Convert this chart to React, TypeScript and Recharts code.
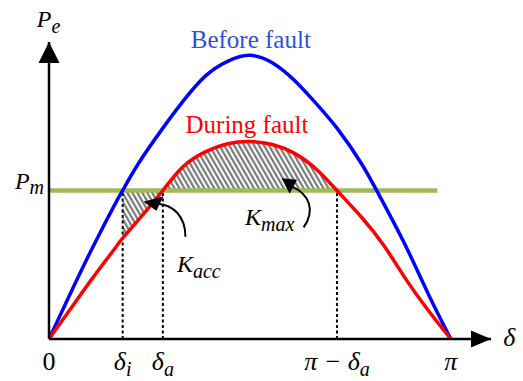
import React from 'react';
import {
  ComposedChart,
  Line,
  Area,
  XAxis,
  YAxis,
  ReferenceLine,
  ReferenceDot,
} from 'recharts';

// rotor angle (deg) and electrical power (pu of Pm)
const deltas = [0, 10, 20, 30, 33, 40, 51, 60, 70, 80, 90, 100, 110, 120, 129, 140, 150, 160, 170, 180];
const beforeFault = [0, 0.32, 0.63, 0.92, 1.0, 1.18, 1.42, 1.6, 1.77, 1.87, 1.91, 1.86, 1.74, 1.58, 1.42, 1.18, 0.91, 0.62, 0.3, 0];
const duringFault = [0, 0.21, 0.42, 0.62, 0.68, 0.8, 1.0, 1.16, 1.26, 1.315, 1.33, 1.31, 1.25, 1.14, 1.0, 0.82, 0.63, 0.4, 0.19, 0];

const pm = 1;
const pmLineEnd = 174;
const deltaI = 33;
const deltaA = 51;
const piMinusDeltaA = 129;

const xTicks = [0, deltaI, deltaA, piMinusDeltaA, 180];
const xTickLabels: [string, string][] = [
  ['0', ''],
  ['δ', 'i'],
  ['δ', 'a'],
  ['π − δ', 'a'],
  ['π', ''],
];
const yTicks = [pm];

const X_MAX = 198;
const Y_MAX = 2;

const fontStyle = { fontFamily: "'Liberation Serif', 'DejaVu Serif', serif" };

const curveData = deltas.map((d, i) => ({ d, before: beforeFault[i], during: duringFault[i] }));
const pmData = [{ d: 0, pe: pm }, { d: pmLineEnd, pe: pm }];
const accBand = deltas
  .map((d, i) => ({ d, band: [duringFault[i], pm] }))
  .filter((p) => p.d >= deltaI && p.d <= deltaA);
const maxBand = deltas
  .map((d, i) => ({ d, band: [pm, duringFault[i]] }))
  .filter((p) => p.d >= deltaA && p.d <= piMinusDeltaA);

function DeltaTick({ x, y, payload }: any) {
  const idx = xTicks.indexOf(payload.value);
  const [main, sub] = xTickLabels[idx] || ['', ''];
  return (
    <text
      x={x}
      y={y + 31}
      textAnchor="middle"
      style={fontStyle}
      fontStyle={main === '0' ? 'normal' : 'italic'}
      fontSize={26}
      fill="#000"
    >
      <tspan>{main}</tspan>
      {sub && (
        <tspan fontSize={20} dy={6}>
          {sub}
        </tspan>
      )}
    </text>
  );
}

function PmTick({ x, y }: any) {
  return (
    <text x={x - 5} y={y - 2} textAnchor="end" style={fontStyle} fontStyle="italic" fontSize={24} fill="#000">
      <tspan>P</tspan>
      <tspan fontSize={20} dy={5}>m</tspan>
    </text>
  );
}

const textShape = (main: string, sub: string, color: string, anchor: string, size = 24) => (p: any) => (
  <text x={p.cx} y={p.cy} textAnchor={anchor} style={fontStyle} fontStyle="italic" fontSize={size} fill={color}>
    <tspan>{main}</tspan>
    {sub && (
      <tspan fontSize={20} dy={6}>
        {sub}
      </tspan>
    )}
  </text>
);

const plainText = (label: string, color: string) => (p: any) => (
  <text x={p.cx} y={p.cy} textAnchor="middle" style={fontStyle} fontSize={25} fill={color}>
    {label}
  </text>
);

const yArrow = (p: any) => (
  <polygon points={`${p.cx},${p.cy} ${p.cx - 10.5},${p.cy + 21} ${p.cx + 10.5},${p.cy + 21}`} fill="#000" />
);
const xArrow = (p: any) => (
  <polygon points={`${p.cx},${p.cy} ${p.cx - 20},${p.cy - 8.5} ${p.cx - 20},${p.cy + 8.5}`} fill="#000" />
);
const pointerShape = (shaft: string, head: string) => (p: any) => (
  <g transform={`translate(${p.cx},${p.cy})`}>
    <path d={shaft} fill="none" stroke="#000" strokeWidth={2} />
    <polygon points={head} fill="#000" />
  </g>
);

export default function App() {
  return (
    <div style={{ position: 'absolute', left: 0, top: 0, width: 523, height: 381, background: '#fff' }}>
      <svg width={0} height={0} style={{ position: 'absolute' }}>
        <defs>
          <pattern id="hatch" patternUnits="userSpaceOnUse" width={4.3} height={10} patternTransform="rotate(-30)">
            <rect x={0} y={0} width={2.2} height={10} fill="#7a7a7a" />
          </pattern>
        </defs>
      </svg>
      <ComposedChart width={523} height={381} data={curveData} margin={{ top: 42, right: 32, bottom: 0, left: 0 }}>
        <XAxis
          type="number"
          dataKey="d"
          domain={[0, X_MAX]}
          ticks={xTicks}
          tick={<DeltaTick />}
          tickLine={false}
          tickSize={0}
          tickMargin={0}
          height={42}
          axisLine={{ stroke: '#000', strokeWidth: 2.5 }}
          allowDataOverflow
          interval={0}
        />
        <YAxis
          type="number"
          domain={[0, Y_MAX]}
          ticks={yTicks}
          tick={<PmTick />}
          tickLine={false}
          tickSize={0}
          tickMargin={0}
          width={49}
          axisLine={{ stroke: '#000', strokeWidth: 2.5 }}
          allowDataOverflow
          interval={0}
        />

        <Area data={accBand} dataKey="band" type="natural" stroke="none" fill="url(#hatch)" fillOpacity={1} isAnimationActive={false} />
        <Area data={maxBand} dataKey="band" type="natural" stroke="none" fill="url(#hatch)" fillOpacity={1} isAnimationActive={false} />

        <ReferenceLine segment={[{ x: deltaI, y: 0 }, { x: deltaI, y: pm }]} stroke="#000" strokeWidth={2} strokeDasharray="3 2.5" />
        <ReferenceLine segment={[{ x: deltaA, y: 0 }, { x: deltaA, y: pm }]} stroke="#000" strokeWidth={2} strokeDasharray="3 2.5" />
        <ReferenceLine segment={[{ x: piMinusDeltaA, y: 0 }, { x: piMinusDeltaA, y: pm }]} stroke="#000" strokeWidth={2} strokeDasharray="3 2.5" />

        <Line data={pmData} dataKey="pe" type="linear" stroke="#9bbb59" strokeWidth={4.5} dot={false} isAnimationActive={false} />
        <Line dataKey="before" type="natural" stroke="#0000ff" strokeWidth={3.5} dot={false} isAnimationActive={false} />
        <Line dataKey="during" type="natural" stroke="#ff0000" strokeWidth={3.5} dot={false} isAnimationActive={false} />

        <ReferenceDot x={0} y={Y_MAX} r={0} ifOverflow="visible" shape={yArrow} />
        <ReferenceDot x={X_MAX} y={0} r={0} ifOverflow="visible" shape={xArrow} />

        <ReferenceDot x={-5.5} y={2.1} r={0} ifOverflow="visible" shape={textShape('P', 'e', '#000', 'start')} />
        <ReferenceDot x={203.5} y={-0.05} r={0} ifOverflow="visible" shape={textShape('δ', '', '#000', 'start', 26)} />

        <ReferenceDot x={90.4} y={1.96} r={0} ifOverflow="visible" shape={plainText('Before fault', '#2b50e0')} />
        <ReferenceDot x={88.7} y={1.39} r={0} ifOverflow="visible" shape={plainText('During fault', '#ff0000')} />

        <ReferenceDot x={57.3} y={0.45} r={0} ifOverflow="visible" shape={textShape('K', 'acc', '#000', 'start')} />
        <ReferenceDot x={87.8} y={0.77} r={0} ifOverflow="visible" shape={textShape('K', 'max', '#000', 'start')} />

        <ReferenceDot
          x={42.3}
          y={0.925}
          r={0}
          ifOverflow="visible"
          shape={pointerShape('M 14 2 C 30 3, 42 15, 42 35', '0,0 20,-5.5 13,9')}
        />
        <ReferenceDot
          x={104.2}
          y={1.082}
          r={0}
          ifOverflow="visible"
          shape={pointerShape('M 10 8 C 28 16, 34 32, 22 49', '0,0 15.5,1.5 8,15.5')}
        />
      </ComposedChart>
    </div>
  );
}
